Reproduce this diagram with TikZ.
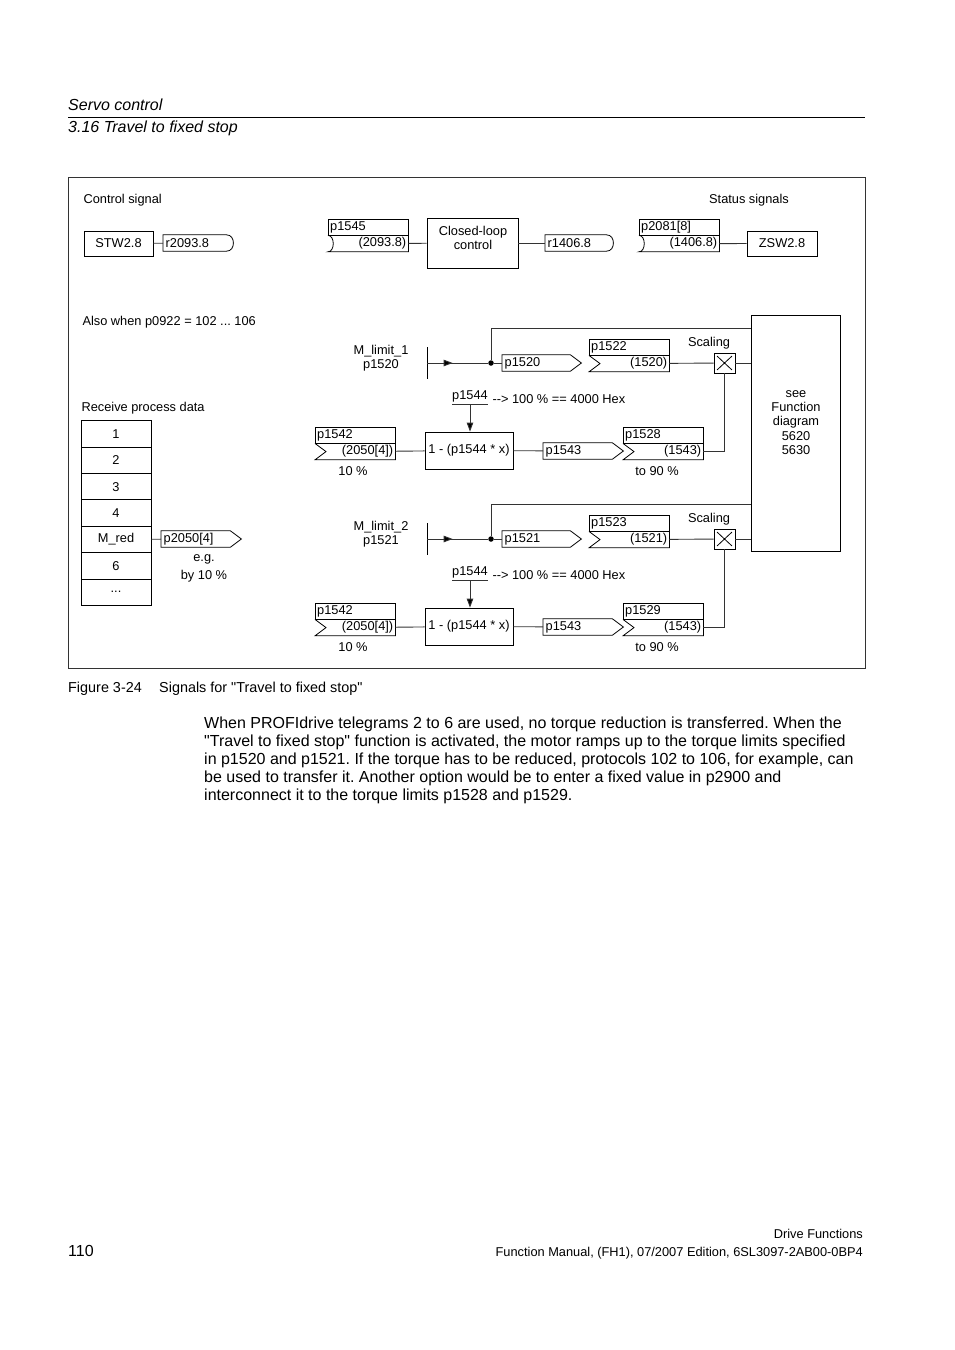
\documentclass[tikz,border=0pt]{standalone}
\usepackage{fontspec}
\setmainfont{Liberation Sans}[Ligatures=TeXOff]
\usetikzlibrary{positioning, arrows.meta, decorations.markings}
\frenchspacing

\newcommand{\diagfont}{\fontsize{12.8}{14.4}\selectfont}
\newcommand{\bodyfont}{\fontsize{16}{18}\selectfont}
\newcommand{\capfont}{\fontsize{14.4}{16}\selectfont}

% connector outlines, drawn round named nodes
\newcommand{\anaout}[1]{\draw[box] (#1.north west) -- ([xshift=-11pt]#1.north east) -- (#1.east) -- ([xshift=-11pt]#1.south east) -- (#1.south west) -- cycle;}
\newcommand{\binout}[1]{\draw[box] (#1.north west) -- ([xshift=-7pt]#1.north east) .. controls ([xshift=-2pt]#1.north east) and ([yshift=4pt]#1.east) .. (#1.east) .. controls ([yshift=-4pt]#1.east) and ([xshift=-2pt]#1.south east) .. ([xshift=-7pt]#1.south east) -- (#1.south west) -- cycle;}
\newcommand{\anain}[2]{\draw[box] (#1.north west) rectangle (#1.south east); \draw[box] (#1.south east) -- (#2.south east) -- (#2.south west) -- ([xshift=11pt]#2.west) -- (#2.north west);}
\newcommand{\binin}[2]{\draw[box] (#1.north west) rectangle (#1.south east); \draw[box] (#1.south east) -- (#2.south east) -- (#2.south west) .. controls ([xshift=7pt]#2.south west) and ([xshift=7pt]#2.north west) .. (#2.north west);}
\newcommand{\mulx}[1]{\draw[box] ([shift={(3.5pt,-3.5pt)}]#1.north west) -- ([shift={(-3.5pt,3.5pt)}]#1.south east) ([shift={(-3.5pt,-3.5pt)}]#1.north east) -- ([shift={(3.5pt,3.5pt)}]#1.south west);}

\tikzset{
  box/.style={draw=black, line width=0.8pt},
  wire/.style={draw=black!80, line width=0.9pt},
  blk/.style={box, inner sep=0pt, align=center},
  cell/.style={box, inner sep=0pt, minimum width=70pt, minimum height=26.4pt},
  sigout/.style={inner xsep=2.5pt, inner ysep=0pt, minimum height=16pt, text width=#1, align=left, anchor=west},
  sighead/.style={inner xsep=2pt, inner ysep=0pt, minimum height=16pt, text width=76pt, align=left, anchor=north west},
  sigval/.style={sighead, align=right, below=0pt of #1},
  mulbox/.style={box, minimum width=21pt, minimum height=20pt, inner sep=0pt},
  dot/.style={circle, fill=black, inner sep=0pt, minimum size=5.5pt},
  tip/.style={-{Triangle[length=9pt,width=6.5pt,fill=black]}},
  midarrow/.style={postaction={decorate}, decoration={markings, mark=at position #1 with {\arrow{Triangle[length=9pt,width=6.5pt,fill=black]}}}},
}

\begin{document}
\begin{tikzpicture}[x=1pt, y=-1pt, font=\diagfont]
\fill[white] (0,0) rectangle (954,1350);
\useasboundingbox (0,0) rectangle (954,1350);

% page header
\node[anchor=base west, inner sep=0pt, font=\bodyfont\itshape] (chap) at (68,110) {Servo control};
\node[anchor=base west, inner sep=0pt, font=\bodyfont\itshape] (sect) at (68,132) {3.16 Travel to fixed stop};
\draw[line width=0.8pt] (68,117.5) -- (865,117.5);

% frame
\draw[line width=0.9pt, draw=black!80] (68,177) rectangle (865,668);

% control and status signals
\node[anchor=west] (ctl) at (80,200) {Control signal};
\node (sts) at (749,200) {Status signals};
\node[blk, minimum width=69pt, minimum height=25pt] (stw) at (118.5,243.5) {STW2.8};
\node[sigout=65pt] (r2093) at (163,243) {r2093.8};
\binout{r2093}
\node[sighead] (p1545) at (328,219) {p1545};
\node[sigval=p1545] (p1545v) {(2093.8)};
\binin{p1545}{p1545v}
\node[blk, minimum width=91pt, minimum height=50pt] (clc) at (472.5,243) {};
\node[align=center] (clctxt) at (473,238) {Closed-loop\\control};
\node[sigout=63pt] (r1406) at (545,243) {r1406.8};
\binout{r1406}
\node[sighead] (p2081) at (639,219) {p2081[8]};
\node[sigval=p2081] (p2081v) {(1406.8)};
\binin{p2081}{p2081v}
\node[blk, minimum width=70pt, minimum height=25pt] (zsw) at (782,243.5) {ZSW2.8};
\draw[wire] (stw) -- (r2093);
\draw[wire] (p1545v) -- (clc);
\draw[wire] (clc) -- (r1406);
\draw[wire] (p2081v) -- (zsw);

% receive process data
\node[anchor=west] (also) at (79,322) {Also when p0922 = 102 ... 106};
\node[anchor=west] (rpd) at (78,408) {Receive process data};
\foreach \t [count=\i] in {1,2,3,4,M\_red,6}
  \node[cell] (rpd\i) at (116,{433.8+26.4*(\i-1)}) {\t};
\node[cell] (rpd7) at (116,592.2) {...};
\node[sigout=75pt] (p2050) at (161,539) {p2050[4]};
\anaout{p2050}
\draw[wire] (rpd5) -- (p2050);
\node[align=center] (eg) at (204,568) {e.g.\\[3.6pt]by 10 \%};

% function diagram box
\node[box, minimum width=89pt, minimum height=236pt, anchor=north west] (see) at (751,315) {};
\node[align=center] (seetxt) at (796,422.5) {see\\Function\\diagram\\5620\\5630};

% torque limit channels
\foreach \dy/\n/\lm/\scl/\tq in {0/1/1520/1522/1528, 176/2/1521/1523/1529} {
  \node[align=center] (mlim\n) at (381,{358+\dy}) {M\_limit\_\n\\p\lm};
  \coordinate (bar\n) at (427,{363+\dy});
  \draw[box] ([yshift=16pt]bar\n) -- ([yshift=-16pt]bar\n);
  \node[dot] (dot\n) at (491,{363+\dy}) {};
  \coordinate (top\n) at (491,{328+\dy});
  \node[sigout=74pt] (out\n) at (502,{363+\dy}) {p\lm};
  \anaout{out\n}
  \node[sighead] (scl\n) at (589,{339+\dy}) {p\scl};
  \node[sigval=scl\n] (sclv\n) {(\lm)};
  \anain{scl\n}{sclv\n}
  \node (sclt\n) at (709,{343+\dy}) {Scaling};
  \node[mulbox] (mul\n) at (724.5,{363+\dy}) {};
  \mulx{mul\n}
  % reduction
  \node[anchor=south, inner xsep=0pt, inner ysep=1.5pt] (gain\n) at (470,{404+\dy}) {p1544};
  \node[anchor=west] (hex\n) at (489,{399+\dy}) {--> 100 \% == 4000 Hex};
  \node[sighead] (red\n) at (315,{427+\dy}) {p1542};
  \node[sigval=red\n] (redv\n) {(2050[4])};
  \anain{red\n}{redv\n}
  \node (pct\n) at (353,{471.5+\dy}) {10 \%};
  \node[blk, minimum width=88pt, minimum height=37pt] (fn\n) at (469,{450.5+\dy}) {1 - (p1544 * x)};
  \node[sigout=75pt] (lim\n) at (543,{451+\dy}) {p1543};
  \anaout{lim\n}
  \node[sighead] (tq\n) at (623,{427+\dy}) {p\tq};
  \node[sigval=tq\n] (tqv\n) {(1543)};
  \anain{tq\n}{tqv\n}
  \node (to\n) at (657,{471.5+\dy}) {to 90 \%};
  % wires
  \draw[wire, midarrow=0.42] (bar\n) -- (dot\n);
  \draw[wire] (dot\n) -- (out\n);
  \draw[wire] (dot\n) -- (top\n) -- (top\n -| see.west);
  \draw[wire] (sclv\n) -- (mul\n);
  \draw[wire] (mul\n) -- (mul\n -| see.west);
  \draw[wire] (tqv\n) -| (mul\n);
  \draw[wire] (gain\n.south west) -- (gain\n.south east);
  \draw[wire, tip] (gain\n.south) -- (gain\n.south |- fn\n.north);
  \draw[wire] (redv\n) -- (fn\n);
  \draw[wire] (fn\n) -- (lim\n);
}

% caption and text
\node[anchor=base west, inner sep=0pt, font=\capfont] (fig) at (68,692) {Figure 3-24};
\node[anchor=base west, inner sep=0pt, font=\capfont] (figtitle) at (159,692) {Signals for "Travel to fixed stop"};
\node[anchor=north west, inner sep=0pt, align=left, font=\bodyfont] (para) at (204,716.5) {When PROFIdrive telegrams 2 to 6 are used, no torque reduction is transferred. When the\\"Travel to fixed stop" function is activated, the motor ramps up to the torque limits specified\\in p1520 and p1521. If the torque has to be reduced, protocols 102 to 106, for example, can\\be used to transfer it. Another option would be to enter a fixed value in p2900 and\\interconnect it to the torque limits p1528 and p1529.};

% page footer
\node[anchor=base east, inner sep=0pt] (man1) at (863,1238.5) {Drive Functions};
\node[anchor=base east, inner sep=0pt] (man2) at (863,1256) {Function Manual, (FH1), 07/2007 Edition, 6SL3097-2AB00-0BP4};
\node[anchor=base west, inner sep=0pt, font=\bodyfont] (page) at (68,1256) {110};
\end{tikzpicture}
\end{document}
